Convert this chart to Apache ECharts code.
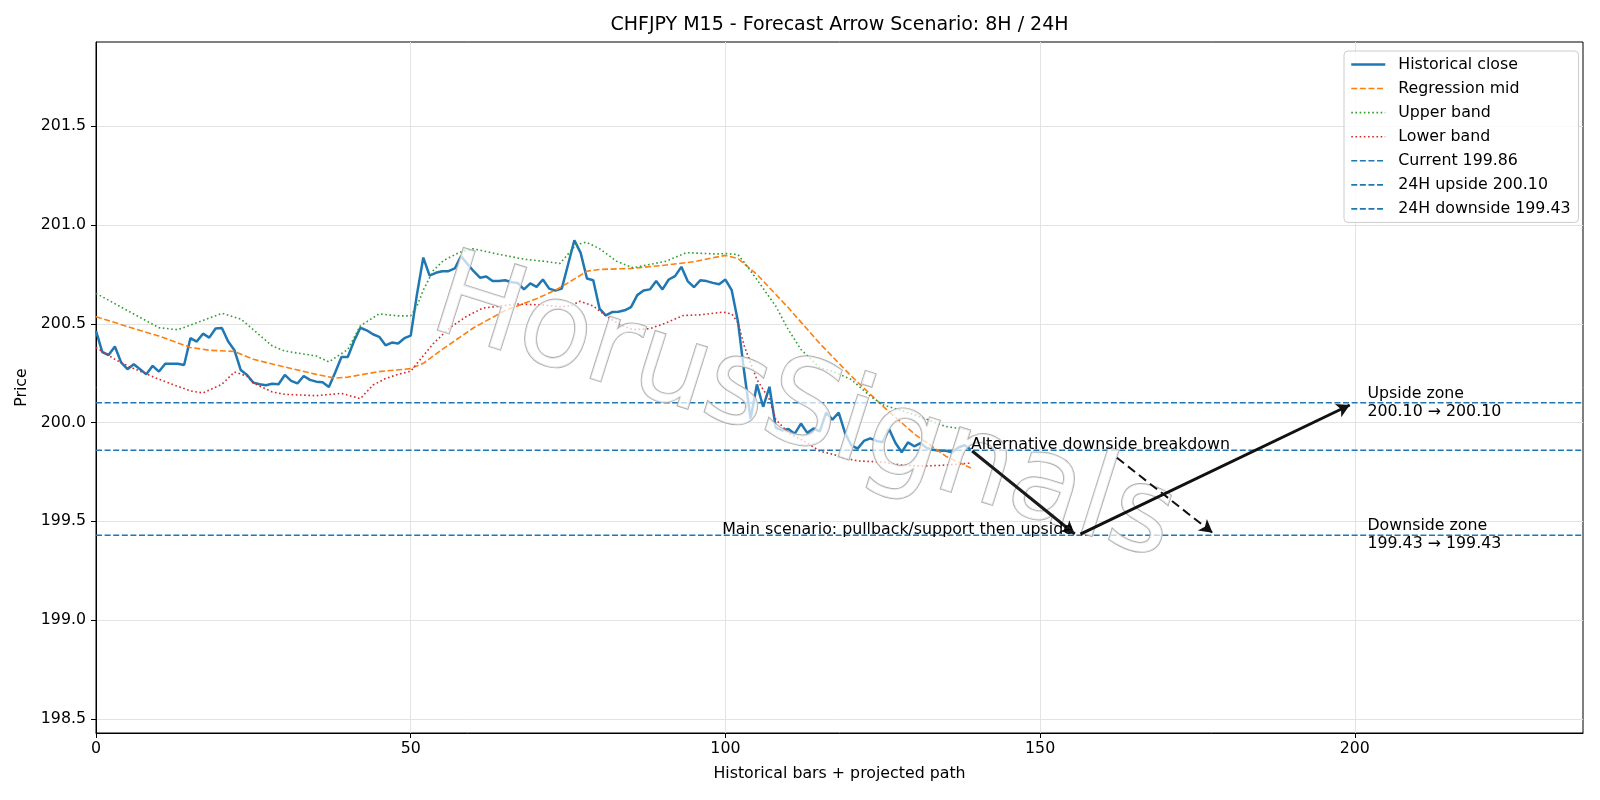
<!DOCTYPE html>
<html><head><meta charset="utf-8">
<script src="https://cdn.jsdelivr.net/npm/echarts@6/dist/echarts.min.js"></script>
<style>html,body{margin:0;padding:0;background:#fff}#c{width:1600px;height:800px}</style>
</head><body><div id="c"></div>
<script>
// ---------- data ----------
const titleText = 'CHFJPY M15 - Forecast Arrow Scenario: 8H / 24H';
const xTicks = [0, 50, 100, 150, 200];
const yTicks = [198.5, 199.0, 199.5, 200.0, 200.5, 201.0, 201.5];
const xRange = [0, 236.25];
const yRange = [198.429, 201.926];

const closeVals = [
 200.464,200.357,200.342,200.385,200.304,200.27,200.295,200.27,200.244,200.287,
 200.258,200.298,200.298,200.298,200.291,200.427,200.41,200.45,200.43,200.476,
 200.479,200.41,200.366,200.266,200.241,200.202,200.194,200.189,200.196,200.194,
 200.241,200.211,200.198,200.236,200.216,200.207,200.204,200.18,200.253,200.332,
 200.332,200.413,200.48,200.467,200.447,200.434,200.391,200.405,200.40,200.427,
 200.44,200.65,200.835,200.744,200.758,200.766,200.766,200.78,200.842,200.803,
 200.766,200.733,200.739,200.716,200.716,200.72,200.71,200.707,200.674,200.704,
 200.687,200.724,200.678,200.668,200.678,200.8,200.923,200.859,200.729,200.72,
 200.577,200.542,200.559,200.561,200.568,200.584,200.645,200.668,200.674,200.716,
 200.674,200.724,200.741,200.788,200.716,200.685,200.72,200.716,200.707,200.70,
 200.724,200.67,200.51,200.252,200.019,200.193,200.08,200.181,199.974,199.96,
 199.968,199.943,199.995,199.948,199.97,199.955,200.05,200.015,200.05,199.948,
 199.885,199.868,199.907,199.92,199.907,199.9,199.968,199.898,199.85,199.9,
 199.88,199.896,199.871,199.862,199.857,199.857,199.85,199.874,199.885,199.862
];

const midX = [0,5,10,15,18,22,25,30,35,38,40,45,50,52,55,60,65,70,73,75,78,80,85,90,95,98,100,102,105,110,115,120,124,125,130,135,139];
const midVals = [200.536,200.486,200.438,200.38,200.366,200.36,200.32,200.281,200.244,200.225,200.23,200.258,200.273,200.30,200.37,200.48,200.567,200.627,200.67,200.707,200.766,200.775,200.78,200.795,200.814,200.834,200.846,200.83,200.75,200.581,200.40,200.235,200.114,200.083,199.943,199.83,199.77];

const upperX = [0,5,10,13,15,20,23,25,28,30,35,37,40,42,45,48,50,51,52,53.6,55.2,57.8,59.9,64.2,68.4,71,73.7,76.3,77.9,80,82.7,85.3,90.6,93.8,98.6,100,102,103,105,108,110,112,115,117,120,123,125,130,135,139];
const upperVals = [200.654,200.567,200.48,200.47,200.493,200.553,200.524,200.47,200.388,200.362,200.337,200.307,200.37,200.49,200.55,200.54,200.54,200.59,200.67,200.77,200.82,200.862,200.88,200.85,200.825,200.817,200.805,200.9,200.913,200.88,200.817,200.783,200.817,200.86,200.853,200.856,200.85,200.81,200.724,200.589,200.47,200.37,200.277,200.26,200.218,200.134,200.09,200.04,199.98,199.962];

const lowerX = [0,3,5,10,15,17,20,22,24,25,28,30,35,39,41,42,44,46,48,50,51,53.6,56.2,58.9,61.5,64.2,66.8,71,73.7,75.3,76.9,79,81.1,83.2,85.3,88,90.6,93.3,95.9,99.6,101,102,103,105,107,108,110,113,115,117,119,121,125,128,131,134,137,139];
const lowerVals = [200.38,200.32,200.287,200.219,200.16,200.15,200.194,200.256,200.235,200.2,200.155,200.143,200.136,200.148,200.13,200.121,200.19,200.223,200.244,200.26,200.30,200.40,200.48,200.538,200.58,200.589,200.60,200.595,200.586,200.59,200.614,200.59,200.538,200.496,200.47,200.475,200.505,200.542,200.545,200.559,200.55,200.505,200.387,200.218,200.117,200.016,199.948,199.897,199.855,199.84,199.82,199.806,199.80,199.785,199.78,199.783,199.79,199.795];

const levelNames = ['Current 199.86', '24H upside 200.10', '24H downside 199.43'];
const levelVals = [199.86, 200.10, 199.43];

// arrows: [x1, y1, x2, y2]
const mainArrow1 = [139.2, 199.856, 155.5, 199.436];
const mainArrow2 = [156.4, 199.435, 199.2, 200.089];
const altArrow   = [162.2, 199.822, 177.4, 199.442];

const altLabel = {text: 'Alternative downside breakdown', x: 139, y: 199.86};
const mainLabel = {text: 'Main scenario: pullback/support then upside', x: 156, y: 199.43};
const upZone = {text: 'Upside zone\n200.10 \u2192 200.10', x: 202, y: 200.10};
const downZone = {text: 'Downside zone\n199.43 \u2192 199.43', x: 202, y: 199.43};
const watermarkText = 'HorusSignals';

// ---------- chart ----------
const FONT = 'DejaVu Sans';
const FS = 15.8;
const pair = (xs, ys) => ys.map((v, i) => [xs[i], v]);
const closeData = closeVals.map((v, i) => [i, v]);

const chart = echarts.init(document.getElementById('c'), null, {renderer: 'canvas'});

const levelSeries = levelNames.map((n, k) => ({
  name: n, type: 'line', symbol: 'none', silent: true,
  data: [[xRange[0], levelVals[k]], [xRange[1], levelVals[k]]],
  lineStyle: {color: '#1f77b4', width: 1.6, type: [6, 2.6]},
  itemStyle: {color: '#1f77b4'}
}));

function arrowItem(a, style) {
  return [{coord: [a[0], a[1]], lineStyle: style}, {coord: [a[2], a[3]], lineStyle: style}];
}

const option = {
  animation: false,
  textStyle: {fontFamily: FONT},
  grid: {left: 96, right: 17, top: 42, bottom: 67, show: true, borderColor: '#000', borderWidth: 1, backgroundColor: 'transparent'},
  legend: {
    data: ['Historical close', 'Regression mid', 'Upper band', 'Lower band'].concat(levelNames),
    orient: 'vertical', left: 1344, top: 51,
    padding: [5.5, 8, 5.5, 6],
    itemWidth: 34, itemHeight: 14, itemGap: 8.07,
    backgroundColor: 'rgba(255,255,255,0.8)', borderColor: '#cccccc', borderWidth: 1, borderRadius: 4,
    textStyle: {fontSize: FS, color: '#000', fontFamily: FONT, lineHeight: 14, padding: [0, 0, 0, 8]},
    lineStyle: {width: 'inherit'},
    itemStyle: {opacity: 0},
    selectedMode: false
  },
  xAxis: {
    type: 'value', min: xRange[0], max: xRange[1], interval: 50,
    name: 'Historical bars + projected path', nameLocation: 'middle', nameGap: 33,
    nameTextStyle: {fontSize: FS, color: '#000', fontFamily: FONT},
    axisLine: {lineStyle: {color: '#000', width: 1}},
    axisTick: {show: true, length: 5, lineStyle: {color: '#000', width: 1}, customValues: xTicks},
    axisLabel: {fontSize: FS, color: '#000', margin: 8, customValues: xTicks, formatter: v => String(Math.round(v))},
    splitLine: {show: true, lineStyle: {color: '#e3e3e3', width: 1}}
  },
  yAxis: {
    type: 'value', min: yRange[0], max: yRange[1], splitNumber: 7,
    name: 'Price', nameLocation: 'middle', nameGap: 56, nameRotate: 90,
    nameTextStyle: {fontSize: FS, color: '#000', fontFamily: FONT},
    axisLine: {show: true, lineStyle: {color: '#000', width: 1}},
    axisTick: {show: true, length: 5, lineStyle: {color: '#000', width: 1}, customValues: yTicks},
    axisLabel: {fontSize: FS, color: '#000', margin: 10, customValues: yTicks, formatter: v => v.toFixed(1)},
    splitLine: {show: true, lineStyle: {color: '#e3e3e3', width: 1}}
  },
  series: [
    {name: 'Historical close', type: 'line', symbol: 'none', data: closeData,
     lineStyle: {color: '#1f77b4', width: 2.5}, itemStyle: {color: '#1f77b4'}},
    {name: 'Regression mid', type: 'line', symbol: 'none', data: pair(midX, midVals),
     lineStyle: {color: '#ff7f0e', width: 1.6, type: [6, 2.6]}, itemStyle: {color: '#ff7f0e'}},
    {name: 'Upper band', type: 'line', symbol: 'none', data: pair(upperX, upperVals),
     lineStyle: {color: '#2ca02c', width: 1.6, type: [1.6, 2.6]}, itemStyle: {color: '#2ca02c'}},
    {name: 'Lower band', type: 'line', symbol: 'none', data: pair(lowerX, lowerVals),
     lineStyle: {color: '#d62728', width: 1.6, type: [1.6, 2.6]}, itemStyle: {color: '#d62728'}}
  ].concat(levelSeries).concat([
    {name: '__arrows', type: 'line', data: [], symbol: 'none',
     markLine: {
       silent: true, animation: false, symbol: ['none', 'arrow'], symbolSize: [11, 13],
       label: {show: false},
       lineStyle: {color: '#111', width: 3, type: 'solid'},
       emphasis: {disabled: true},
       data: [
         arrowItem(mainArrow1, {color: '#1a1a1a', width: 3, type: 'solid'}),
         arrowItem(mainArrow2, {color: '#111', width: 3, type: 'solid'}),
         arrowItem(altArrow, {color: '#111', width: 2, type: [9, 5]})
       ]
     }}
  ])
};

chart.setOption(option);

function px(x, y) { return chart.convertToPixel({xAxisIndex: 0, yAxisIndex: 0}, [x, y]); }

const pAlt = px(altLabel.x, altLabel.y);
const pMain = px(mainLabel.x, mainLabel.y);
const pUp = px(upZone.x, upZone.y);
const pDown = px(downZone.x, downZone.y);

const textStyleBase = {fill: '#000', fontSize: FS, fontFamily: FONT};

chart.setOption({
  graphic: [
    {type: 'text', z: 10, x: 839.5, y: 25.5,
     style: Object.assign({}, textStyleBase, {text: titleText, fontSize: 19, align: 'center', verticalAlign: 'middle'})},
    {type: 'text', z: 4, x: 803, y: 413, rotation: -17.5 * Math.PI / 180, silent: true,
     style: {text: watermarkText, fontSize: 118, fontFamily: FONT, align: 'center', verticalAlign: 'middle',
             fill: 'rgba(255,255,255,0.72)', stroke: 'rgba(165,165,165,0.9)', lineWidth: 1.8,
             shadowColor: 'rgba(0,0,0,0.35)', shadowOffsetX: 3, shadowOffsetY: 3, shadowBlur: 2.5}},
    {type: 'text', z: 20, x: pAlt[0], y: pAlt[1] - 5,
     style: Object.assign({}, textStyleBase, {text: altLabel.text, align: 'left', verticalAlign: 'middle'})},
    {type: 'text', z: 20, x: pMain[0] - 5, y: pMain[1] - 5,
     style: Object.assign({}, textStyleBase, {text: mainLabel.text, align: 'right', verticalAlign: 'middle'})},
    {type: 'text', z: 20, x: pUp[0], y: pUp[1],
     style: Object.assign({}, textStyleBase, {text: upZone.text, align: 'left', verticalAlign: 'middle', lineHeight: 18})},
    {type: 'text', z: 20, x: pDown[0], y: pDown[1],
     style: Object.assign({}, textStyleBase, {text: downZone.text, align: 'left', verticalAlign: 'middle', lineHeight: 18})}
  ]
});
</script>
</body></html>
